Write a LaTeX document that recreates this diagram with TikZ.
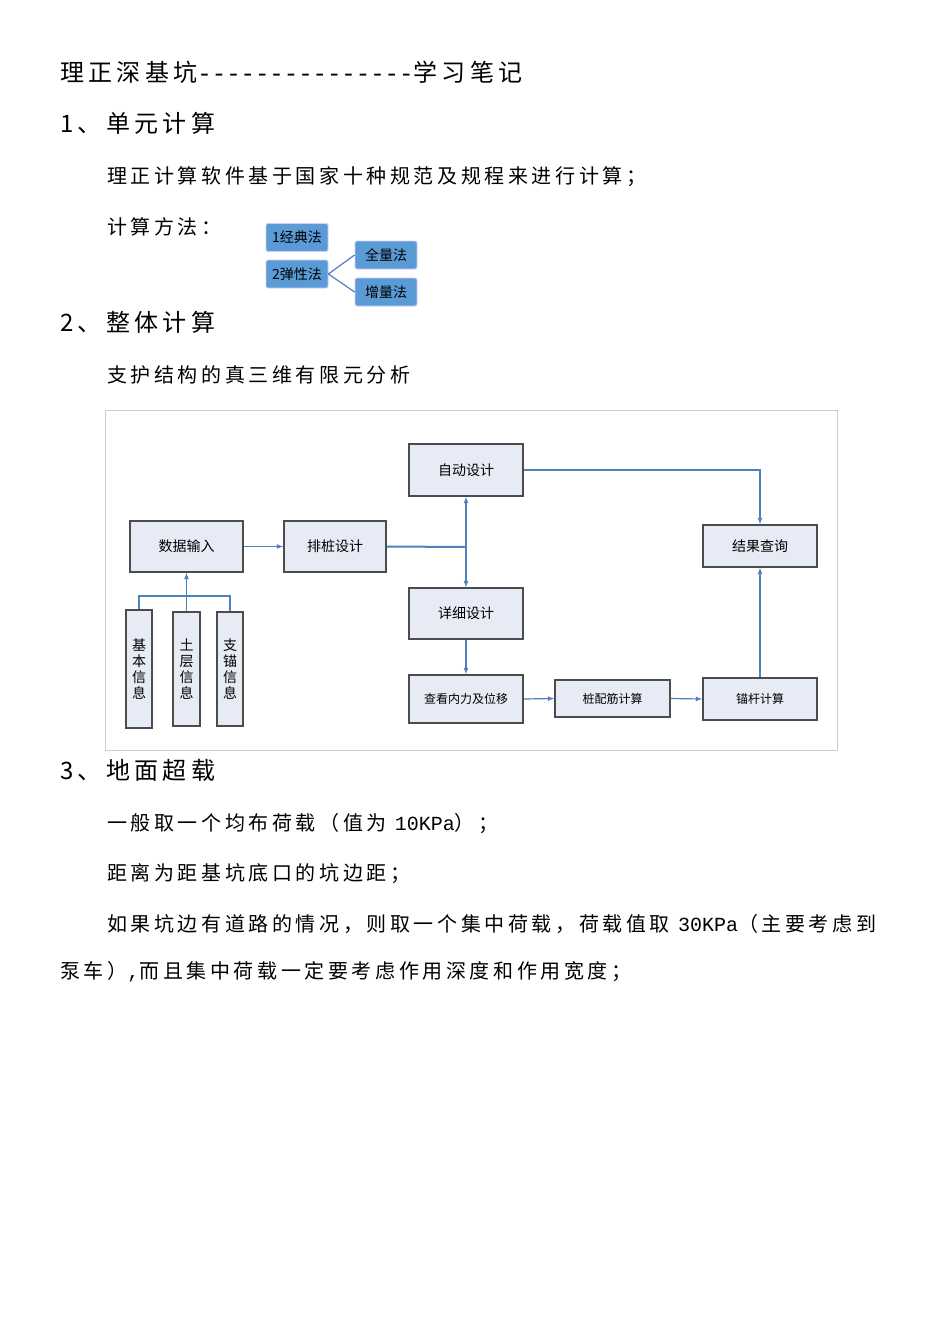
\documentclass[tikz,border=0pt]{standalone}
\usepackage{fontspec}
\setmainfont{Noto Sans CJK SC}[LetterSpace=18]
\newfontfamily\boxfont{Noto Sans CJK SC}
\newfontfamily\latf{Liberation Mono}[Ligatures=NoCommon]
\newcommand{\lat}[1]{{\latf #1}}
\definecolor{lnc}{HTML}{4F81BD}
\definecolor{mfill}{HTML}{5B9BD5}
\definecolor{ffill}{HTML}{E6EBF5}
\begin{document}
\begin{tikzpicture}[x=1pt,y=-1pt,
  txt/.style={anchor=west,inner sep=0pt,font=\fontsize{20}{24}\selectfont},
  hd/.style={anchor=west,inner sep=0pt,font=\fontsize{24}{28}\selectfont},
  fbox/.style={draw=black!70,line width=1.6pt,fill=ffill,inner sep=0pt,font=\boxfont\fontsize{14}{16}\selectfont},
  mbox/.style={draw=blue!20,line width=0.8pt,fill=mfill,rounded corners=2pt,inner sep=0pt,minimum width=62,minimum height=28,font=\boxfont\fontsize{14}{16}\selectfont},
  ln/.style={draw=lnc,line width=1.2pt},
  arr/.style={ln,-latex}]
\useasboundingbox[fill=white](0,0) rectangle (950,1344);
\node[hd] (t0) at (60,72) {理正深基坑\lat{\fontsize{24}{28}\selectfont ---------------}学习笔记};
\node[hd] (h1) at (60,123) {1、单元计算};
\node[txt] (b1) at (107,177) {理正计算软件基于国家十种规范及规程来进行计算；};
\node[txt] (b2) at (107,227) {计算方法：};
\node[mbox] (m1) at (297,237.5) {1经典法};
\node[mbox] (m2) at (297,274) {2弹性法};
\node[mbox] (m3) at (386,255) {全量法};
\node[mbox] (m4) at (386,292) {增量法};
\draw[ln] (m2.east) -- (m3.west);
\draw[ln] (m2.east) -- (m4.west);
\node[hd] (h2) at (60,322) {2、整体计算};
\node[txt] (b3) at (107,375) {支护结构的真三维有限元分析};
\draw[gray!40,line width=0.8pt] (105,410) rectangle (837,750);
\node[fbox,minimum width=114,minimum height=52] (zd) at (466,470) {自动设计};
\node[fbox,minimum width=113,minimum height=51] (sj) at (186.5,546.5) {数据输入};
\node[fbox,minimum width=102,minimum height=51] (pz) at (335,546.5) {排桩设计};
\node[fbox,minimum width=114,minimum height=42] (jg) at (760,546) {结果查询};
\node[fbox,minimum width=114,minimum height=51] (xx) at (466,613.5) {详细设计};
\node[fbox,minimum width=114,minimum height=48] (ck) at (466,699) {\fontsize{12}{14}\selectfont 查看内力及位移};
\node[fbox,minimum width=115,minimum height=37] (pj) at (612.5,698.5) {\fontsize{12}{14}\selectfont 桩配筋计算};
\node[fbox,minimum width=114,minimum height=42] (mg) at (760,699) {\fontsize{12}{14}\selectfont 锚杆计算};
\node[fbox,minimum width=26,minimum height=118,align=center] (i1) at (139,669) {基\\本\\信\\息};
\node[fbox,minimum width=27,minimum height=114,align=center] (i2) at (186.5,669) {土\\层\\信\\息};
\node[fbox,minimum width=26,minimum height=114,align=center] (i3) at (230,669) {支\\锚\\信\\息};
\coordinate (jn) at (466,547);
\draw[arr] (sj.east) -- (pz.west);
\draw[ln,line width=2pt] (pz.east) -- (jn);
\draw[arr] (jn) -- (zd.south);
\draw[arr] (jn) -- (xx.north);
\draw[arr] (zd.east) -| (jg.north);
\draw[arr] (xx.south) -- (ck.north);
\draw[arr] (ck.east) -- (pj.west);
\draw[arr] (pj.east) -- (mg.west);
\draw[arr] (mg.north) -- (jg.south);
\draw[ln] (i1.north) |- (186.5,596) -| (i3.north);
\draw[arr] (i2.north) -- (sj.south);
\node[hd] (h3) at (60,770) {3、地面超载};
\node[txt] (b4) at (107,824) {一般取一个均布荷载（值为 \lat{10KPa}）；};
\node[txt] (b5) at (107,874) {距离为距基坑底口的坑边距；};
\node[txt] (b6) at (107,924) {如果坑边有道路的情况，则取一个集中荷载，荷载值取 \lat{30KPa}（主要考虑到};
\node[txt] (b7) at (60,972) {泵车）\lat{,}而且集中荷载一定要考虑作用深度和作用宽度；};
\end{tikzpicture}
\end{document}
